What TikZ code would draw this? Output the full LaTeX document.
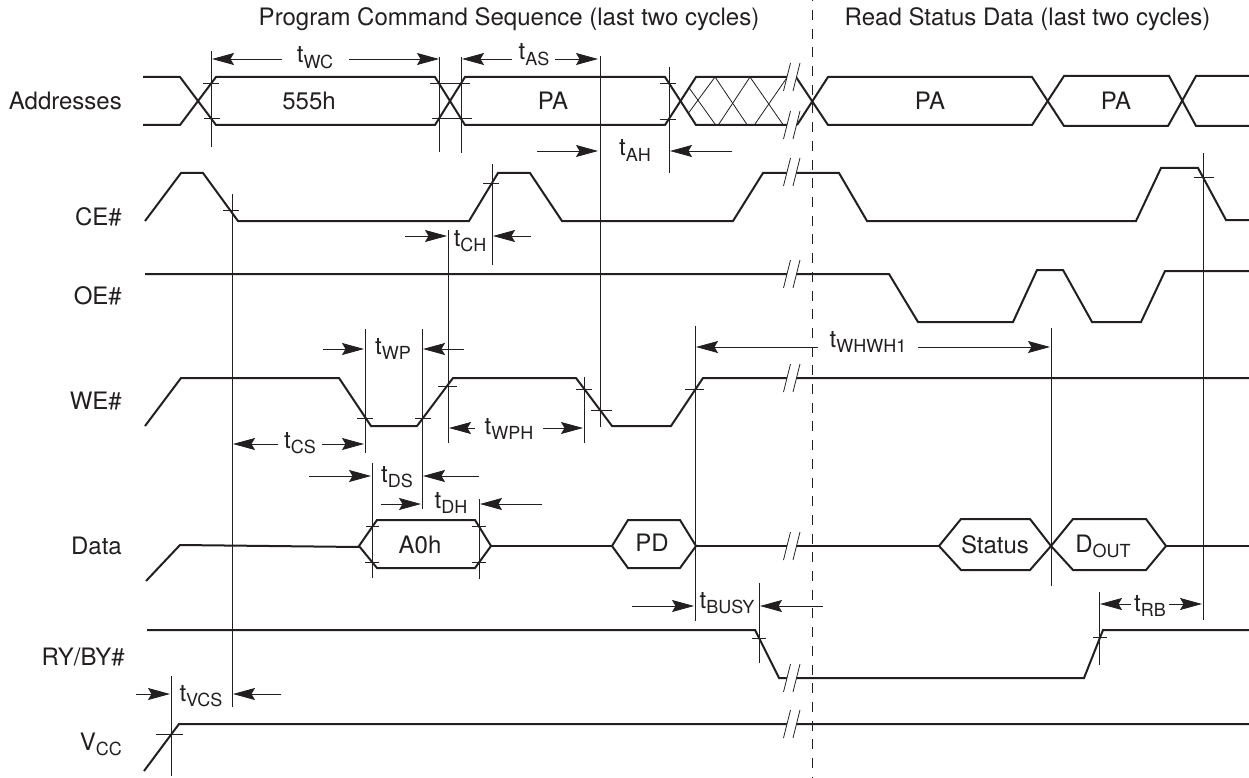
\documentclass[tikz,border=0pt]{standalone}
\usepackage{fontspec}
\setmainfont{TeX Gyre Heros}
\usetikzlibrary{arrows.meta}
\definecolor{inkcol}{HTML}{231F20}
\newcommand{\subs}[2]{#1\raisebox{-5.5pt}{\fontsize{18}{19}\selectfont #2}}
\tikzset{
  every node/.style={inner sep=0pt, text=inkcol, font=\fontsize{24}{26}\selectfont},
  txt/.style={anchor=base},
  sig/.style={anchor=base east},
  trace/.style={draw=inkcol, line width=2pt, line join=miter},
  guide/.style={draw=inkcol, line width=0.8pt},
  span/.style={draw=inkcol, line width=0.8pt, -{Stealth[length=22pt,width=12pt,inset=3.5pt]}}
}
\begin{document}
\begin{tikzpicture}[x=1pt,y=-1pt]
  \useasboundingbox (0,0) rectangle (1249,778);
  \node(title1) [txt] at (509,26) {Program Command Sequence (last two cycles)};
  \node(title2) [txt] at (1027.5,26) {Read Status Data (last two cycles)};
  \node(addr) [sig] at (122,110) {Addresses};
  \node(ce) [sig] at (122,225) {CE\#};
  \node(oe) [sig] at (122,304) {OE\#};
  \node(we) [sig] at (122,409) {WE\#};
  \node(data) [sig] at (122,554) {Data};
  \node(ry) [sig] at (125,665) {RY/BY\#};
  \node(vcc) [sig] at (122,750) {\subs{V}{CC}};
  \node(v555) [txt] at (309,110) {555h};
  \node(pa1) [txt] at (553,110) {PA};
  \node(pa2) [txt] at (930,110) {PA};
  \node(pa3) [txt] at (1116,110) {PA};
  \node(a0h) [txt] at (420,553) {A0h};
  \node(pd) [txt] at (652,551) {PD};
  \node(status) [txt] at (995,553) {Status};
  \node(dout) [txt] at (1103,552) {\subs{D}{OUT}};
  \node(twc) [txt] at (315,63) {\subs{t}{WC}};
  \node(tas) [txt] at (534,60) {\subs{t}{AS}};
  \node(tah) [txt] at (635,156) {\subs{t}{AH}};
  \node(tch) [txt] at (470,246) {\subs{t}{CH}};
  \node(twp) [txt] at (393,354) {\subs{t}{WP}};
  \node(tcs) [txt] at (300,448) {\subs{t}{CS}};
  \node(tds) [txt] at (397,482) {\subs{t}{DS}};
  \node(tdh) [txt] at (451,508) {\subs{t}{DH}};
  \node(twph) [txt] at (509,434) {\subs{t}{WPH}};
  \node(twhwh) [txt] at (868,347) {\subs{t}{WHWH1}};
  \node(tbusy) [txt] at (727,608) {\subs{t}{BUSY}};
  \node(trb) [txt] at (1150,611) {\subs{t}{RB}};
  \node(tvcs) [txt] at (201,701) {\subs{t}{VCS}};

  \draw[trace] (143,77) -- (180,77) -- (216,125) -- (435,125) -- (465,77) -- (665,77) -- (696,125) -- (787,125);
  \draw[trace] (143,125) -- (180,125) -- (216,77) -- (435,77) -- (465,125) -- (665,125) -- (696,77) -- (787,77);
  \draw[trace] (796,77) -- (828,125) -- (1032,125) -- (1064,76) -- (1169,76) -- (1196,126) -- (1249,126);
  \draw[trace] (797,125) -- (828,77) -- (1032,77) -- (1064,126) -- (1168,126) -- (1196,76) -- (1249,76);
  \draw[guide] (688.5,87) -- (715.7,125) (715,77) -- (747.3,125) (750,77) -- (783.3,125);
  \draw[guide] (688.5,113) -- (715,77) (718.3,125) -- (750,77) (754.3,125) -- (786.7,78);
  \draw[trace] (145,221) -- (181,173) -- (203,173) -- (238,221) -- (469,221) -- (498,173) -- (530,173) -- (562,221) -- (733,221) -- (763,173) -- (839,173) -- (867,221) -- (1136,221) -- (1161,168) -- (1198,168) -- (1226,220) -- (1249,220);
  \draw[trace] (145,274) -- (889,274) -- (918,322) -- (1013,322) -- (1037,270) -- (1063,270) -- (1092,322) -- (1141,322) -- (1165,271) -- (1249,271);
  \draw[trace] (145,426) -- (181,378) -- (339,378) -- (371,426) -- (417,426) -- (453,378) -- (576,378) -- (612,426) -- (671,426) -- (703,378) -- (1249,378);
  \draw[trace] (146,581) -- (180,545) -- (359,547);
  \draw[trace] (359,546) -- (377,520) -- (475,520) -- (491,546) -- (475,568) -- (377,568) -- cycle;
  \draw[trace] (491,546) -- (612,546);
  \draw[trace] (612,546) -- (628,520) -- (680,520) -- (696,546) -- (680,568) -- (628,568) -- cycle;
  \draw[trace] (696,546) -- (939,546);
  \draw[trace] (939,546) -- (961,519) -- (1030,519) -- (1051,546) -- (1030,570) -- (961,570) -- cycle;
  \draw[trace] (1051,546) -- (1073,519) -- (1146,519) -- (1166,546) -- (1146,570) -- (1073,570) -- cycle;
  \draw[trace] (1166,546) -- (1249,546);
  \draw[trace] (147,630) -- (755,630) -- (779,678) -- (1084,678) -- (1103,630) -- (1249,630);
  \draw[trace] (144,771) -- (179,724) -- (1249,724);

  \foreach \by in {77,125,172,274,378,546,678,724} {
    \fill[white] (786,\by+4) -- (795.5,\by+4) -- (797.5,\by-4) -- (788,\by-4) -- cycle;
    \draw[guide] (783.5,\by+14) -- (790.5,\by-14) (793,\by+14) -- (800,\by-14);
  }

  \foreach \gx/\gtop/\gbot in {211/51/147, 439/57/152, 461/57/153, 600/56/427, 669/67/173, 232/194/707, 448/230/443, 492/164/265, 1203/153/620, 365/329/453, 422/329/509, 372/463/578, 479/499/579, 584/377/443, 695/326/621, 759/583/663, 1051/328/586, 1099/592/665, 171/676/776} {
    \draw[guide] (\gx,\gtop) -- (\gx,\gbot);
  }
  \foreach \tl/\tr/\ty in {203/219/83, 204/220/118, 430/470/83, 432/472/118, 660/676/83, 660/676/119, 223/239/210, 483/499/183, 1194/1214/177, 357/373/418, 415/431/418, 438/457/386, 576/592/389, 591/612/410, 685/704/389, 366/379/526, 365/379/562, 472/486/526, 472/486/562, 752/766/638, 1093/1107/637, 156/183/734} {
    \draw[guide] (\tl,\ty) -- (\tr,\ty);
  }

  \foreach \sa/\sb/\sy in {282/212/59, 349/439/59, 512/462/59, 555/598/59, 537/598/151, 732/670/151, 405/447/236, 531/493/236, 323/364/349, 464/423/349, 278/233/444, 322/364/444, 309/371/476, 479/423/476, 381/421/504, 542/480/504, 475/449/428, 543/583/428, 818/696/347, 918/1050/347, 632/694/606, 823/760/606, 1131/1100/604, 1169/1202/604, 136/170/694, 281/233/694} {
    \draw[span] (\sa,\sy) -- (\sb,\sy);
  }

  \draw[draw=inkcol, line width=1pt, dash pattern=on 10pt off 8.7pt, dash phase=8.7pt] (812,0) -- (812,778);
\end{tikzpicture}
\end{document}
